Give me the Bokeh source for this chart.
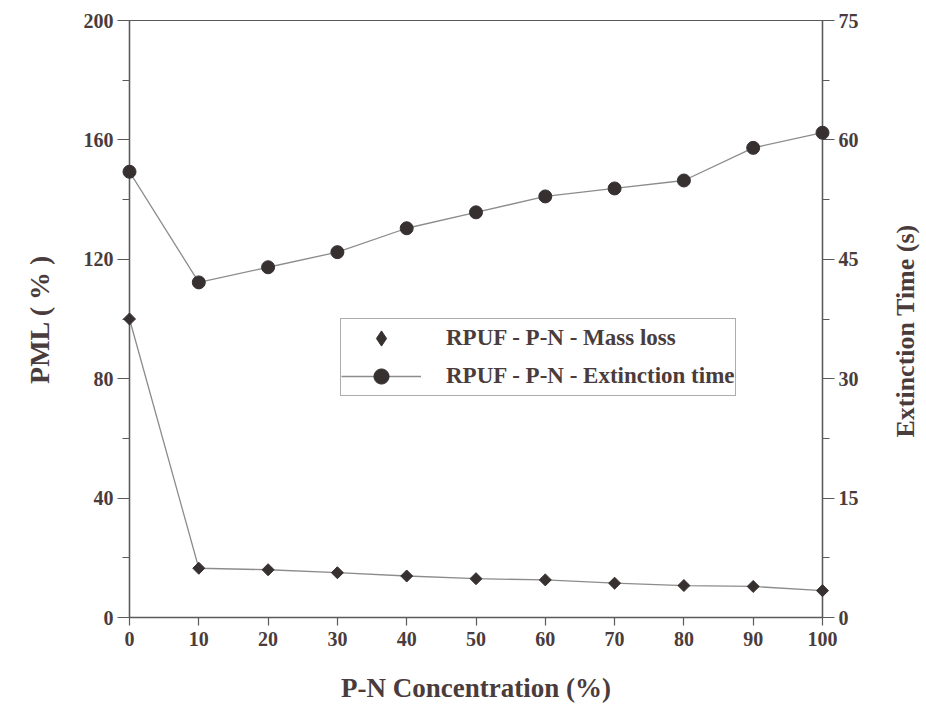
import math
from bokeh.plotting import figure
from bokeh.models import Range1d, LinearAxis, Legend, LegendItem, FixedTicker
from bokeh.core.properties import value
from bokeh.embed import file_html
from bokeh.resources import INLINE

concentration = [0, 10, 20, 30, 40, 50, 60, 70, 80, 90, 100]
mass_loss = [100, 16.5, 16.0, 15.0, 13.9, 13.0, 12.6, 11.5, 10.7, 10.4, 9.0]
extinction_time = [56.0, 42.1, 44.0, 45.9, 48.9, 50.9, 52.9, 53.9, 54.9, 59.0, 60.9]

x_ticks = [0, 10, 20, 30, 40, 50, 60, 70, 80, 90, 100]
left_ticks = [0, 40, 80, 120, 160, 200]
left_minor = [20, 60, 100, 140, 180]
right_ticks = [0, 15, 30, 45, 60, 75]
right_minor = [7.5, 22.5, 37.5, 52.5, 67.5]
right_title = "Extinction Time (s)"

INK = "#363030"
TXT = "#4a3c3c"
AXC = "#5a5a5a"
FONT = "Liberation Serif"

p = figure(frame_width=693, frame_height=597,
           min_border_left=129, min_border_right=100, min_border_top=20, min_border_bottom=86,
           x_range=Range1d(0, 100), y_range=Range1d(0, 200),
           output_backend="svg", toolbar_location=None)
p.extra_y_ranges = {"ext": Range1d(0, 75)}
p.xgrid.visible = False
p.ygrid.visible = False
p.outline_line_color = AXC
p.outline_line_width = 1.2

def style_axis(ax, ticks, minor, tick_out):
    ax.ticker = FixedTicker(ticks=ticks, minor_ticks=minor)
    ax.axis_line_color = AXC
    ax.axis_line_width = 1.4
    ax.major_tick_line_color = AXC
    ax.minor_tick_line_color = AXC
    ax.major_tick_line_width = 1.2
    ax.minor_tick_line_width = 1.0
    ax.major_tick_in = 0
    ax.major_tick_out = tick_out
    ax.minor_tick_in = 0
    ax.minor_tick_out = 7
    ax.major_label_text_font = FONT
    ax.major_label_text_font_style = "bold"
    ax.major_label_text_font_size = "20px"
    ax.major_label_text_color = TXT
    ax.axis_label_text_font = FONT
    ax.axis_label_text_font_style = "bold"
    ax.axis_label_text_color = TXT

xa = p.xaxis[0]
style_axis(xa, x_ticks, [], 8)
xa.axis_label = "P-N Concentration (%)"
xa.axis_label_text_font_size = "27px"
xa.major_label_standoff = 6
xa.axis_label_standoff = 24

ya = p.yaxis[0]
style_axis(ya, left_ticks, left_minor, 12)
ya.axis_label = "PML ( % )"
ya.axis_label_text_font_size = "28px"
ya.major_label_standoff = 4
ya.axis_label_standoff = 26

ra = LinearAxis(y_range_name="ext")
style_axis(ra, right_ticks, right_minor, 12)
ra.major_label_standoff = 4
p.add_layout(ra, "right")

# right-axis title, reading bottom-to-top as in the original (overlay level: not clipped)
p.text(x=[112.0], y=[96.0], text=[right_title], angle=math.pi / 2,
       text_align="center", text_baseline="middle",
       text_font=value(FONT), text_font_style="bold", text_font_size="26px",
       text_color=TXT, level="overlay")

l1 = p.line(concentration, mass_loss, line_color="#8c8c8c", line_width=1.3)
# legend-only diamond, hidden underneath the first mass-loss marker
s1_leg = p.scatter(concentration[:1], mass_loss[:1], marker="diamond", size=10,
                   fill_color=INK, line_color=INK)
s1 = p.scatter(concentration, mass_loss, marker="square", angle=math.pi / 4, size=8.5,
               fill_color=INK, line_color=INK, level="overlay")
l2 = p.line(concentration, extinction_time, y_range_name="ext",
            line_color="#8c8c8c", line_width=1.3)
s2 = p.scatter(concentration, extinction_time, y_range_name="ext", marker="circle",
               size=13, fill_color=INK, line_color=INK, level="overlay")

legend = Legend(items=[
    LegendItem(label="RPUF - P-N - Mass loss", renderers=[s1_leg]),
    LegendItem(label="RPUF - P-N - Extinction time", renderers=[l2, s2]),
], location=(211, 221))
legend.label_text_font = FONT
legend.label_text_font_style = "bold"
legend.label_text_font_size = "23px"
legend.label_text_color = TXT
legend.border_line_color = AXC
legend.border_line_width = 1.4
legend.glyph_width = 80
legend.glyph_height = 38
legend.label_height = 38
legend.label_standoff = 25
legend.padding = 0
legend.spacing = 0
legend.margin = 0
p.add_layout(legend, "center")

open("out.html", "w").write(file_html(p, INLINE))
